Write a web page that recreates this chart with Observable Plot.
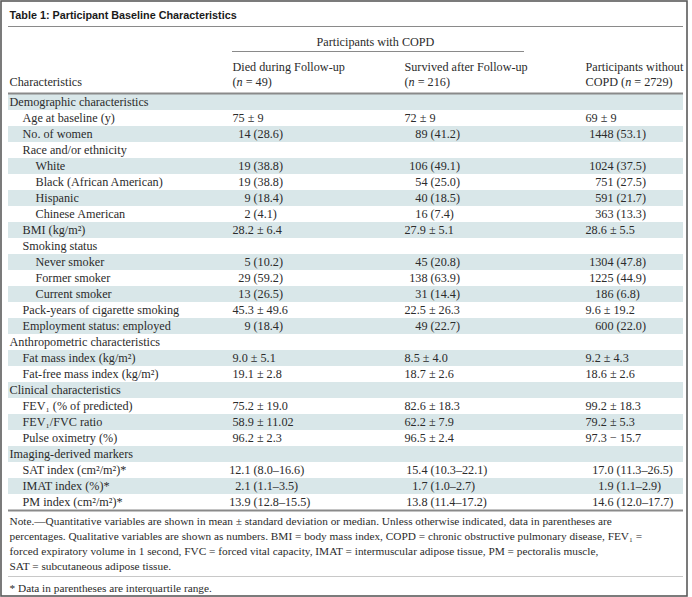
<!DOCTYPE html>
<html><head><meta charset="utf-8">
<script src="https://cdn.jsdelivr.net/npm/d3@7"></script>
<script src="https://cdn.jsdelivr.net/npm/@observablehq/plot@0.6"></script>
<style>body{margin:0;background:#fff}</style>
</head><body><div id="chart"></div>
<script>
// ---------- data ----------
const title = "Table 1: Participant Baseline Characteristics";
const groupHeader = "Participants with COPD";
const stubHeader = "Characteristics";
const columnHeadersLine1 = ["Died during Follow-up", "Survived after Follow-up", "Participants without"];
const columnHeadersLine2 = ["(n = 49)", "(n = 216)", "COPD (n = 2729)"];
const characteristics = [
  "Demographic characteristics", "Age at baseline (y)", "No. of women", "Race and/or ethnicity",
  "White", "Black (African American)", "Hispanic", "Chinese American", "BMI (kg/m²)",
  "Smoking status", "Never smoker", "Former smoker", "Current smoker",
  "Pack-years of cigarette smoking", "Employment status: employed",
  "Anthropometric characteristics", "Fat mass index (kg/m²)", "Fat-free mass index (kg/m²)",
  "Clinical characteristics", "FEV₁ (% of predicted)", "FEV₁/FVC ratio", "Pulse oximetry (%)",
  "Imaging-derived markers", "SAT index (cm²/m²)*", "IMAT index (%)*", "PM index (cm²/m²)*"
];
const sectionHeadings = ["Demographic characteristics", "Anthropometric characteristics", "Clinical characteristics", "Imaging-derived markers"];
const nestedItems = ["White", "Black (African American)", "Hispanic", "Chinese American", "Never smoker", "Former smoker", "Current smoker"];
const diedValues = ["", "75 ± 9", "14 (28.6)", "", "19 (38.8)", "19 (38.8)", "9 (18.4)", "2 (4.1)", "28.2 ± 6.4",
  "", "5 (10.2)", "29 (59.2)", "13 (26.5)", "45.3 ± 49.6", "9 (18.4)", "", "9.0 ± 5.1", "19.1 ± 2.8",
  "", "75.2 ± 19.0", "58.9 ± 11.02", "96.2 ± 2.3", "", "12.1 (8.0–16.6)", "2.1 (1.1–3.5)", "13.9 (12.8–15.5)"];
const survivedValues = ["", "72 ± 9", "89 (41.2)", "", "106 (49.1)", "54 (25.0)", "40 (18.5)", "16 (7.4)", "27.9 ± 5.1",
  "", "45 (20.8)", "138 (63.9)", "31 (14.4)", "22.5 ± 26.3", "49 (22.7)", "", "8.5 ± 4.0", "18.7 ± 2.6",
  "", "82.6 ± 18.3", "62.2 ± 7.9", "96.5 ± 2.4", "", "15.4 (10.3–22.1)", "1.7 (1.0–2.7)", "13.8 (11.4–17.2)"];
const withoutValues = ["", "69 ± 9", "1448 (53.1)", "", "1024 (37.5)", "751 (27.5)", "591 (21.7)", "363 (13.3)", "28.6 ± 5.5",
  "", "1304 (47.8)", "1225 (44.9)", "186 (6.8)", "9.6 ± 19.2", "600 (22.0)", "", "9.2 ± 4.3", "18.6 ± 2.6",
  "", "99.2 ± 18.3", "79.2 ± 5.3", "97.3 − 15.7", "", "17.0 (11.3–26.5)", "1.9 (1.1–2.9)", "14.6 (12.0–17.7)"];
const notes = [
  "Note.—Quantitative variables are shown in mean ± standard deviation or median. Unless otherwise indicated, data in parentheses are",
  "percentages. Qualitative variables are shown as numbers. BMI = body mass index, COPD = chronic obstructive pulmonary disease, FEV₁ =",
  "forced expiratory volume in 1 second, FVC = forced vital capacity, IMAT = intermuscular adipose tissue, PM = pectoralis muscle,",
  "SAT = subcutaneous adipose tissue."
];
const footnote = "* Data in parentheses are interquartile range.";

// ---------- layout ----------
const W = 692, H = 597;
const L = 8, R = 683;
const rowTop = 94, rowH = 16;
const indent = [9, 22, 35];
const colX = [232, 404, 585];
const colAnchor = [253, 430, 616];
const serif = "'Liberation Serif', 'Times New Roman', serif";
const fs = 12.2;
const noteFs = 11.3;
const ink = "#2b2b2b";

const rows = characteristics.map((label, i) => ({
  label, i,
  level: sectionHeadings.includes(label) ? 0 : nestedItems.includes(label) ? 2 : 1
}));
const columns = [diedValues, survivedValues, withoutValues];
const cells = [];
columns.forEach((vals, c) => vals.forEach((v, i) => {
  if (!v) return;
  const m = v.match(/^(\S+) (\(.*\))$/);
  if (m) cells.push({c, i, head: m[1], tail: m[2], split: true});
  else cells.push({c, i, head: v, split: false});
}));
const yc = d => rowTop + d.i * rowH + rowH / 2;

const chart = Plot.plot({
  width: W, height: H, margin: 0,
  x: {domain: [0, W], range: [0, W], axis: null},
  y: {domain: [0, H], range: [0, H], axis: null},
  style: {background: "#fff"},
  marks: [
    // shaded rows
    Plot.rect(rows.filter(d => d.i % 2 === 0), {x1: L, x2: R, y1: d => rowTop + d.i * rowH, y2: d => rowTop + (d.i + 1) * rowH, fill: "#d9e7e9"}),
    // frame
    Plot.rect([0], {x1: 1, x2: 687, y1: 1, y2: 596, fill: "none", stroke: "#5a5a5a", strokeWidth: 1.6}),
    // rules
    Plot.ruleY([26], {x1: L, x2: R, stroke: "#8a8a8a", strokeWidth: 1}),
    Plot.ruleY([51], {x1: colX[0], x2: 524, stroke: "#8a8a8a", strokeWidth: 1}),
    Plot.ruleY([93], {x1: L, x2: R, stroke: "#8a8a8a", strokeWidth: 2}),
    Plot.ruleY([510], {x1: L, x2: R, stroke: "#8a8a8a", strokeWidth: 2}),
    Plot.ruleY([576], {x1: L, x2: R, stroke: "#c8c8c8", strokeWidth: 1}),
    // title
    Plot.text([title], {x: 9, y: 15, text: d => d, textAnchor: "start", fontFamily: "'Liberation Sans', Arial, sans-serif", fontWeight: "bold", fontSize: 10.8, fill: "#1a1a1a"}),
    // headers
    Plot.text([groupHeader], {x: 375, y: 42, text: d => d, fontFamily: serif, fontSize: fs, fill: ink}),
    Plot.text(columnHeadersLine1, {x: (d, i) => colX[i], y: 67, text: d => d, textAnchor: "start", fontFamily: serif, fontSize: fs, fill: ink}),
    Plot.text(columnHeadersLine2, {x: (d, i) => colX[i], y: 82, text: d => d, textAnchor: "start", fontFamily: serif, fontSize: fs, fill: ink}),
    Plot.text([stubHeader], {x: 9, y: 82, text: d => d, textAnchor: "start", fontFamily: serif, fontSize: fs, fill: ink}),
    // row labels
    Plot.text(rows, {x: d => indent[d.level], y: yc, text: "label", textAnchor: "start", fontFamily: serif, fontSize: fs, fill: ink}),
    // values
    Plot.text(cells.filter(d => !d.split), {x: d => colX[d.c], y: yc, text: "head", textAnchor: "start", fontFamily: serif, fontSize: fs, fill: ink}),
    Plot.text(cells.filter(d => d.split), {x: d => colAnchor[d.c] - 3, y: yc, text: "head", textAnchor: "end", fontFamily: serif, fontSize: fs, fill: ink}),
    Plot.text(cells.filter(d => d.split), {x: d => colAnchor[d.c], y: yc, text: "tail", textAnchor: "start", fontFamily: serif, fontSize: fs, fill: ink}),
    // notes
    Plot.text(notes, {x: 9, y: (d, i) => 521 + i * 15, text: d => d, textAnchor: "start", fontFamily: serif, fontSize: noteFs, fill: ink}),
    Plot.text([footnote], {x: 9, y: 588, text: d => d, textAnchor: "start", fontFamily: serif, fontSize: noteFs, fill: ink})
  ]
});

// italic "n" in the column headers
chart.querySelectorAll("text").forEach(t => {
  const s = t.textContent;
  if (/\(n = /.test(s) && t.children.length === 0) {
    const [a, b] = s.split("n = ");
    t.textContent = "";
    const ns = "http://www.w3.org/2000/svg";
    const t1 = document.createElementNS(ns, "tspan"); t1.textContent = a;
    const t2 = document.createElementNS(ns, "tspan"); t2.textContent = "n"; t2.setAttribute("font-style", "italic");
    const t3 = document.createElementNS(ns, "tspan"); t3.textContent = " = " + b;
    t.append(t1, t2, t3);
  }
});
document.getElementById("chart").append(chart);
</script>
</body></html>
